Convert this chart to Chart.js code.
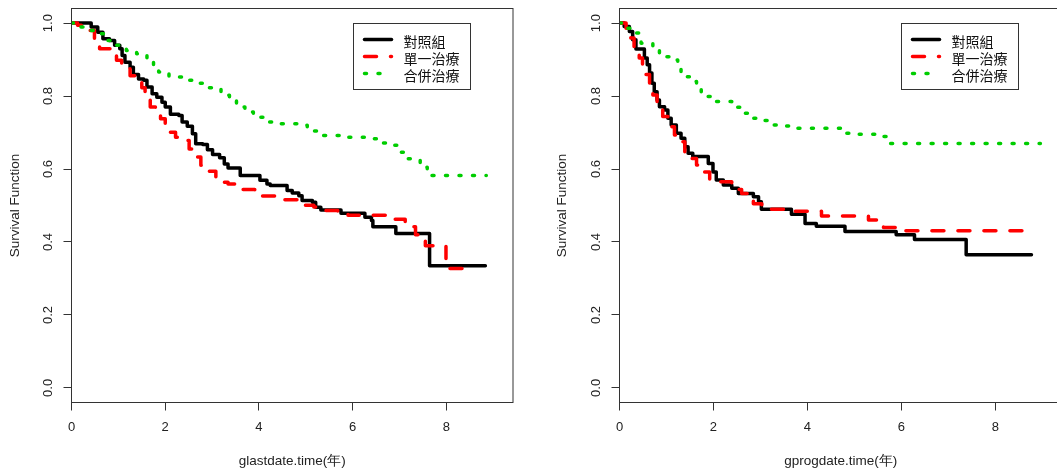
<!DOCTYPE html>
<html>
<head>
<meta charset="utf-8">
<script src="https://cdn.jsdelivr.net/npm/chart.js@4/dist/chart.umd.min.js"></script>
<style>
html, body { margin: 0; padding: 0; background: #fff; overflow: hidden; width: 1057px; height: 472px; }
#wrap { position: relative; width: 1057px; height: 472px; overflow: hidden; }
canvas { position: absolute; top: 0; }
#lastChart { left: 0; }
#progChart { left: 530px; }
</style>
</head>
<body>
<div id="wrap">
  <canvas id="lastChart" width="530" height="472"></canvas>
  <canvas id="progChart" width="540" height="472"></canvas>
</div>
<script>
const groupLabels = ['對照組', '單一治療', '合併治療'];
const xTicks = [0, 2, 4, 6, 8];
const yTicks = [0, 0.2, 0.4, 0.6, 0.8, 1.0];
const xTitles = ['glastdate.time(年)', 'gprogdate.time(年)'];
const yTitle = 'Survival Function';

// glastdate.time - 對照組
const lastCtrlT = [0, 0.42, 0.56, 0.67, 0.81, 0.92, 1.03, 1.08, 1.14, 1.25, 1.32, 1.43, 1.54, 1.61, 1.72, 1.82, 1.93, 2.00, 2.11, 2.29,
    2.36, 2.47, 2.58, 2.65, 2.80, 2.90, 3.01, 3.16, 3.26, 3.34, 3.60, 4.02, 4.17, 4.24, 4.60, 4.71, 4.85, 4.92, 5.14, 5.21,
    5.32, 5.75, 6.26, 6.40, 6.43, 6.92, 7.64, 8.83];
const lastCtrlS = [1, 0.989, 0.975, 0.957, 0.952, 0.939, 0.930, 0.911, 0.893, 0.879, 0.859, 0.847, 0.843, 0.825, 0.806, 0.797, 0.783, 0.770, 0.750, 0.747,
    0.729, 0.717, 0.697, 0.669, 0.667, 0.653, 0.640, 0.631, 0.614, 0.603, 0.582, 0.569, 0.559, 0.555, 0.541, 0.534, 0.527, 0.514, 0.509, 0.495,
    0.488, 0.479, 0.468, 0.459, 0.442, 0.423, 0.335, 0.335];
// glastdate.time - 單一治療
const lastMonoT = [0, 0.13, 0.38, 0.49, 0.60, 0.96, 1.07, 1.17, 1.25, 1.35, 1.50, 1.57, 1.68, 1.79, 1.90, 2.00, 2.08, 2.22, 2.36, 2.51,
    2.62, 2.76, 2.90, 3.08, 3.23, 3.34, 3.48, 3.91, 4.45, 4.92, 4.99, 5.17, 5.39, 5.68, 5.90, 6.90, 7.12, 7.34, 7.45, 7.55,
    7.99, 8.57];
const lastMonoS = [1, 0.994, 0.980, 0.957, 0.930, 0.898, 0.888, 0.875, 0.856, 0.838, 0.823, 0.797, 0.770, 0.751, 0.738, 0.719, 0.701, 0.687, 0.678, 0.655,
    0.633, 0.610, 0.594, 0.573, 0.564, 0.559, 0.544, 0.526, 0.516, 0.509, 0.501, 0.496, 0.486, 0.481, 0.473, 0.462, 0.442, 0.420, 0.413, 0.390,
    0.327, 0.327];
// glastdate.time - 合併治療
const lastComboT = [0, 0.20, 0.38, 0.63, 0.78, 0.96, 1.17, 1.39, 1.61, 1.75, 1.86, 2.08, 2.36, 2.62, 2.80, 3.19, 3.37, 3.52, 3.70, 3.88,
    4.09, 4.34, 4.89, 5.03, 5.28, 5.79, 6.33, 6.58, 6.80, 6.94, 7.08, 7.44, 7.59, 8.85];
const lastComboS = [1, 0.989, 0.980, 0.971, 0.952, 0.939, 0.925, 0.916, 0.902, 0.884, 0.866, 0.852, 0.843, 0.835, 0.823, 0.802, 0.788, 0.770, 0.756, 0.742,
    0.729, 0.724, 0.720, 0.704, 0.692, 0.687, 0.683, 0.671, 0.665, 0.646, 0.628, 0.605, 0.582, 0.582];

// gprogdate.time - 對照組
const progCtrlT = [0, 0.10, 0.21, 0.28, 0.35, 0.53, 0.59, 0.64, 0.69, 0.74, 0.80, 0.85, 0.96, 1.03, 1.10, 1.21, 1.31, 1.39, 1.46, 1.56,
    1.89, 1.99, 2.06, 2.21, 2.39, 2.53, 2.85, 2.96, 3.02, 3.66, 3.95, 4.19, 4.80, 5.89, 6.28, 7.38, 8.77];
const progCtrlS = [1, 0.991, 0.977, 0.954, 0.929, 0.904, 0.886, 0.863, 0.835, 0.812, 0.789, 0.771, 0.762, 0.739, 0.721, 0.698, 0.684, 0.661, 0.643, 0.634,
    0.615, 0.592, 0.570, 0.556, 0.547, 0.533, 0.524, 0.510, 0.490, 0.476, 0.451, 0.443, 0.429, 0.420, 0.407, 0.365, 0.365];
// gprogdate.time - 單一治療
const progMonoT = [0, 0.14, 0.24, 0.31, 0.42, 0.49, 0.56, 0.64, 0.71, 0.80, 0.92, 1.03, 1.17, 1.28, 1.39, 1.49, 1.64, 1.78, 1.92, 2.39,
    2.60, 2.74, 2.85, 3.03, 3.60, 4.30, 5.30, 5.62, 5.95, 8.74];
const progMonoS = [1, 0.986, 0.959, 0.932, 0.904, 0.877, 0.859, 0.831, 0.803, 0.771, 0.744, 0.716, 0.693, 0.675, 0.647, 0.629, 0.611, 0.592, 0.565, 0.544,
    0.533, 0.524, 0.505, 0.490, 0.484, 0.471, 0.460, 0.440, 0.431, 0.431];
// gprogdate.time - 合併治療
const progComboT = [0, 0.17, 0.28, 0.46, 0.71, 0.85, 1.10, 1.24, 1.31, 1.49, 1.64, 1.74, 1.96, 2.39, 2.56, 2.74, 2.96, 3.17, 3.42, 3.64,
    4.78, 5.03, 5.53, 5.71, 8.96];
const progComboS = [1, 0.986, 0.973, 0.945, 0.931, 0.908, 0.899, 0.881, 0.853, 0.840, 0.824, 0.799, 0.785, 0.769, 0.753, 0.739, 0.733, 0.721, 0.718, 0.712,
    0.698, 0.695, 0.689, 0.670, 0.670];

const lineColors = ['#000000', '#ff0000', '#00cd00'];
const lineDashes = [[], [12, 14], [2, 11.5]];
const textColor = '#222222';
const latinFont = '"Liberation Sans", Arial, sans-serif';

function steps(t, s) {
    return t.map((v, i) => ({ x: v, y: s[i] }));
}

// R style box around the plot region
const frameBox = {
    id: 'frameBox',
    afterDraw(chart) {
        const { ctx, chartArea: a } = chart;
        ctx.save();
        ctx.strokeStyle = '#333';
        ctx.lineWidth = 1;
        ctx.strokeRect(a.left, a.top, a.right - a.left, a.bottom - a.top);
        ctx.restore();
    }
};

// legend box placed at data coordinates, like legend(x, y, ...) in R
const rLegend = {
    id: 'rLegend',
    afterDraw(chart, args, opts) {
        const { ctx, scales } = chart;
        const left = Math.round(scales.x.getPixelForValue(opts.at[0])) + 0.5;
        const top = Math.round(scales.y.getPixelForValue(opts.at[1])) + 0.5;
        ctx.save();
        ctx.fillStyle = '#fff';
        ctx.fillRect(left, top, 117, 66);
        ctx.strokeStyle = '#333';
        ctx.lineWidth = 1;
        ctx.strokeRect(left, top, 117, 66);
        chart.data.datasets.forEach((ds, i) => {
            const rowY = top + 16 + i * 17;
            ctx.beginPath();
            ctx.strokeStyle = ds.borderColor;
            ctx.lineWidth = ds.borderWidth;
            ctx.lineCap = 'round';
            ctx.setLineDash(ds.borderDash);
            ctx.moveTo(left + 11, rowY);
            ctx.lineTo(left + 38, rowY);
            ctx.stroke();
            ctx.setLineDash([]);
            ctx.fillStyle = '#111';
            ctx.font = '14px "Noto Sans CJK TC", sans-serif';
            ctx.textBaseline = 'middle';
            ctx.textAlign = 'left';
            ctx.fillText(ds.label, left + 50, rowY + 2);
        });
        ctx.restore();
    }
};

function makeChart(id, xTitle, series, axisWidth, padRight, xMax, yTitlePad) {
    return new Chart(document.getElementById(id), {
        type: 'line',
        data: {
            datasets: series.map((d, i) => ({
                label: groupLabels[i],
                data: d,
                borderColor: lineColors[i],
                borderWidth: 3.5,
                borderDash: lineDashes[i],
                borderCapStyle: 'round',
                borderJoinStyle: 'round',
                stepped: 'before',
                pointRadius: 0,
                fill: false,
                order: 3 - i
            }))
        },
        options: {
            responsive: false,
            animation: false,
            events: [],
            layout: { padding: { left: 0, top: 8.5, right: padRight, bottom: 0 } },
            plugins: {
                legend: { display: false },
                tooltip: { enabled: false },
                rLegend: { at: [6, 1.0] }
            },
            scales: {
                x: {
                    type: 'linear',
                    min: 0,
                    max: xMax,
                    afterBuildTicks: s => { s.ticks = xTicks.map(v => ({ value: v })); },
                    afterFit: s => {
                        s.height = 69.5;
                        s.paddingLeft = 0;
                        s.paddingRight = 0;
                    },
                    border: { display: false },
                    grid: { drawOnChartArea: false, tickLength: 8, color: '#333' },
                    ticks: {
                        autoSkip: false,
                        maxRotation: 0,
                        padding: 9,
                        color: textColor,
                        font: { family: latinFont, size: 13 },
                        callback: v => String(v)
                    },
                    title: {
                        display: true,
                        text: xTitle,
                        color: textColor,
                        font: { family: latinFont, size: 13.5 },
                        padding: { top: 0, bottom: 3 }
                    }
                },
                y: {
                    type: 'linear',
                    min: -0.04,
                    max: 1.04,
                    afterBuildTicks: s => { s.ticks = yTicks.map(v => ({ value: v })); },
                    afterFit: s => {
                        s.width = axisWidth;
                        s.paddingTop = 0;
                        s.paddingBottom = 0;
                    },
                    border: { display: false },
                    grid: { drawOnChartArea: false, tickLength: 8, color: '#333' },
                    ticks: {
                        autoSkip: false,
                        minRotation: 90,
                        maxRotation: 90,
                        crossAlign: 'center',
                        padding: 6.5,
                        color: textColor,
                        font: { family: latinFont, size: 13 },
                        callback: v => v.toFixed(1)
                    },
                    title: {
                        display: true,
                        text: yTitle,
                        color: textColor,
                        font: { family: latinFont, size: 13.5 },
                        padding: { top: yTitlePad, bottom: 0 }
                    }
                }
            }
        },
        plugins: [frameBox, rLegend]
    });
}

makeChart('lastChart', xTitles[0], [
    steps(lastCtrlT, lastCtrlS),
    steps(lastMonoT, lastMonoS),
    steps(lastComboT, lastComboS)
], 71.5, 17, 9.42, 7.4);

makeChart('progChart', xTitles[1], [
    steps(progCtrlT, progCtrlS),
    steps(progMonoT, progMonoS),
    steps(progComboT, progComboS)
], 89.5, 8, 9.42, 24.6);
</script>
</body>
</html>
